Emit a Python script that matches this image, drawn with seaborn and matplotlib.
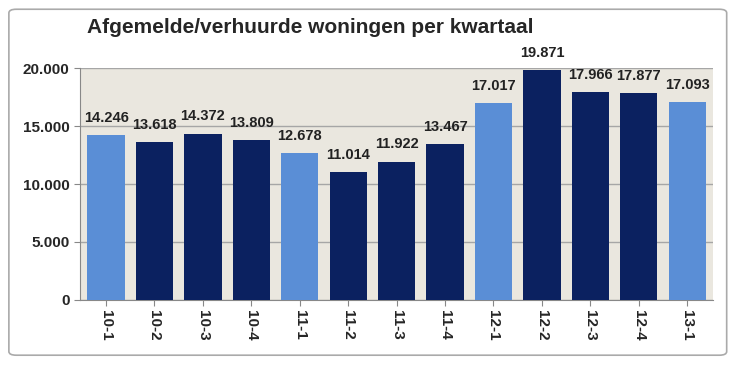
import pandas as pd
import numpy as np
import seaborn as sns
import matplotlib.pyplot as plt
from matplotlib.patches import FancyBboxPatch

kwartalen = ['10-1', '10-2', '10-3', '10-4', '11-1', '11-2', '11-3', '11-4',
             '12-1', '12-2', '12-3', '12-4', '13-1']
woningen = [14246, 13618, 14372, 13809, 12678, 11014, 11922, 13467,
            17017, 19871, 17966, 17877, 17093]
yticks = [0, 5000, 10000, 15000, 20000]

data = pd.DataFrame({'kwartaal': kwartalen, 'woningen': woningen})
data['q1'] = data['kwartaal'].str.endswith('-1')

light = '#5a8ed6'
dark = '#0b2160'
kleuren = [light if q else dark for q in data['q1']]

sns.set_style('white')
plt.rcParams['font.family'] = ['Liberation Sans', 'DejaVu Sans']

fig = plt.figure(figsize=(7.4, 3.7), dpi=100)
ax = fig.add_axes([0.108, 0.19, 0.856, 0.625])

# outer frame
fig.patches.append(FancyBboxPatch((0.012, 0.04), 0.97, 0.935, boxstyle='round,pad=0,rounding_size=0.01',
                                  transform=fig.transFigure, fill=False, edgecolor='#aaaaaa', linewidth=1.2))

sns.barplot(data=data, x='kwartaal', y='woningen', hue='kwartaal', palette=kleuren,
            legend=False, width=0.77, saturation=1, linewidth=0, ax=ax, zorder=3)

ax.set_facecolor('#eae7df')
ax.set_ylim(0, 20000)
ax.set_xlim(-0.54, 12.54)
ax.set_yticks(yticks)
ax.set_yticklabels([f'{v:,}'.replace(',', '.') for v in yticks], fontsize=11, fontweight='bold')
ax.yaxis.grid(True, color='#a6a6a6', linewidth=1, zorder=0)
ax.set_axisbelow(True)
ax.tick_params(axis='x', rotation=270, labelsize=11, length=4, color='#888888', direction='out', bottom=True)
ax.tick_params(axis='y', length=4, color='#888888', direction='out', left=True)
for lbl in ax.get_xticklabels():
    lbl.set_fontweight('bold')
ax.set_xlabel('')
ax.set_ylabel('')
for s in ['top', 'right']:
    ax.spines[s].set_visible(False)
for s in ['left', 'bottom']:
    ax.spines[s].set_color('#888888')

for i, v in enumerate(woningen):
    ax.text(i, v + 900, f'{v:,}'.replace(',', '.'), ha='center', va='bottom',
            fontsize=10.5, fontweight='bold', color='#222222', zorder=4)

fig.text(0.118, 0.925, 'Afgemelde/verhuurde woningen per kwartaal', fontsize=15,
         fontweight='bold', ha='left', va='center')

fig.savefig('out.png', dpi=100)
